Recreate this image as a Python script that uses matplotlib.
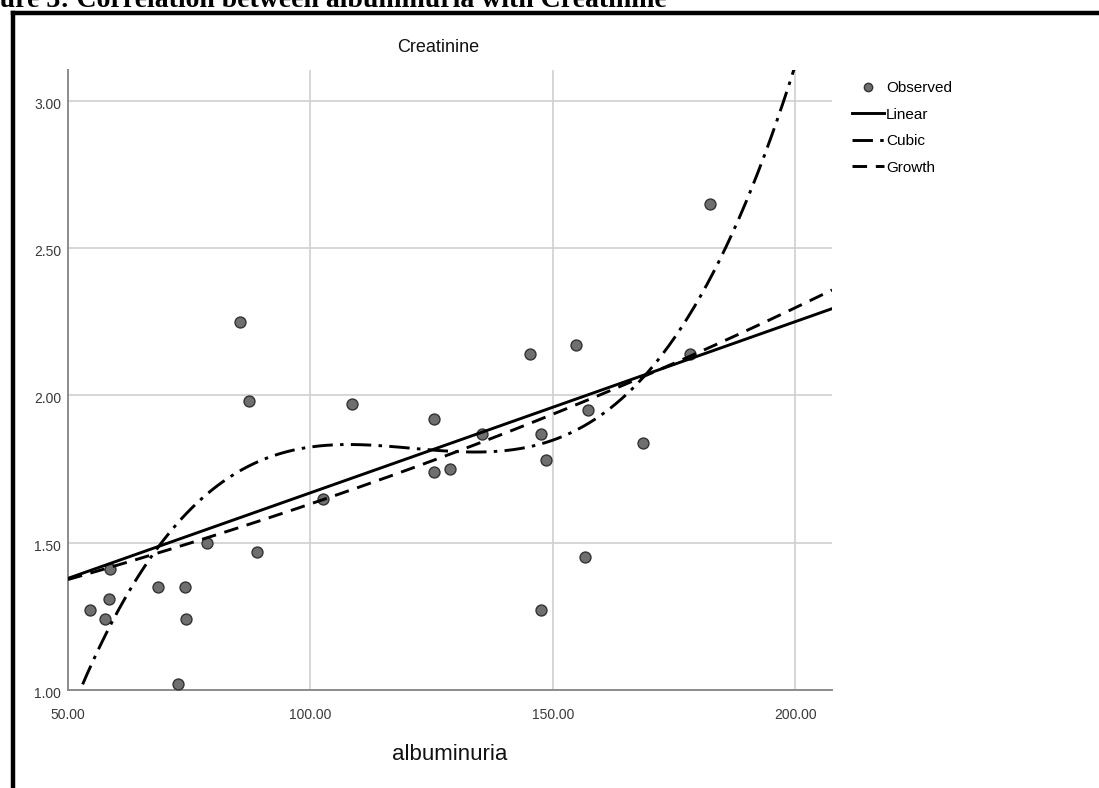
import numpy as np
import matplotlib
matplotlib.use("Agg")
import matplotlib.pyplot as plt
import matplotlib.transforms as mtransforms
from matplotlib.lines import Line2D

# Observed data (albuminuria, creatinine)
albuminuria = [54.5, 57.6, 58.5, 58.7, 68.6, 74.2, 74.3, 72.6, 78.7, 89.0,
               85.5, 87.3, 108.6, 102.5,
               145.2, 154.8, 125.6, 135.5, 147.5, 157.3, 125.6, 128.7, 148.6,
               168.7, 156.6, 147.5, 182.4, 178.4]
creatinine = [1.27, 1.24, 1.31, 1.41, 1.35, 1.35, 1.24, 1.02, 1.50, 1.47,
              2.25, 1.98, 1.97, 1.65,
              2.14, 2.17, 1.92, 1.87, 1.87, 1.95, 1.74, 1.75, 1.78,
              1.84, 1.45, 1.27, 2.65, 2.14]

# Fitted models
linear_coef = [0.00581, 1.0885]          # slope, intercept
growth_coef = [1.1587, 0.003423]         # a, b in a*exp(b*x)
cubic_read_x = [52.3, 55.0, 57.0, 60.4, 62.9, 66.6, 70.4, 77.1, 86.0, 96.3,
                102.5, 108.0, 112.9, 138.4, 148.7, 154.9, 158.7, 163.8,
                171.8, 184.5, 189.7, 198.3, 199.7]
cubic_read_y = [1.00, 1.088, 1.158, 1.269, 1.334, 1.436, 1.526, 1.668, 1.747, 1.809,
                1.828, 1.832, 1.828, 1.809, 1.837, 1.88, 1.917, 1.99,
                2.131, 2.46, 2.652, 3.029, 3.105]

x_ticks = [50, 100, 150, 200]
y_ticks = [1.0, 1.5, 2.0, 2.5, 3.0]
x_range = (50, 207.6)
y_range = (1.0, 3.105)

legend_labels = ["Observed", "Linear", "Cubic", "Growth"]

W, H = 1099, 788
fig = plt.figure(figsize=(W / 100, H / 100), dpi=100)
fig.patch.set_facecolor("white")

ax = fig.add_axes([68 / W, 1 - 690 / H, (832 - 68) / W, (690 - 70) / H])

xa = np.array(albuminuria)
ya = np.array(creatinine)
xs = np.linspace(x_range[0], x_range[1], 600)

cub = np.polyfit(cubic_read_x, cubic_read_y, 3)

narrow = ["Liberation Sans Narrow", "Liberation Sans", "DejaVu Sans"]
sans = ["Liberation Sans", "DejaVu Sans"]

ax.set_xlim(*x_range)
ax.set_ylim(*y_range)
ax.set_xticks(x_ticks)
ax.set_yticks(y_ticks)
ax.set_xticklabels([f"{v:.2f}" for v in x_ticks], family=narrow, fontsize=10, color="#3a3a3a")
ax.set_yticklabels([f"{v:.2f}" for v in y_ticks], family=narrow, fontsize=10, color="#3a3a3a")
ax.tick_params(axis="x", length=0, pad=13)
ax.tick_params(axis="y", length=0, pad=5)
shift = mtransforms.ScaledTranslation(0, -4 / 100, fig.dpi_scale_trans)
for lab in ax.get_yticklabels():
    lab.set_verticalalignment("center")
    lab.set_transform(lab.get_transform() + shift)
ax.grid(True, color="#cfcfcf", lw=1.2)
ax.set_axisbelow(True)
for s in ["top", "right"]:
    ax.spines[s].set_visible(False)
for s in ["left", "bottom"]:
    ax.spines[s].set_color("#8c8c8c")
    ax.spines[s].set_linewidth(1.4)

ax.scatter(xa, ya, s=62, facecolor="#6f6f6f", edgecolor="#333333", linewidths=1.0, zorder=3)
l1, = ax.plot(xs, linear_coef[0] * xs + linear_coef[1], color="black", lw=2.1, zorder=4)
l2, = ax.plot(xs, np.polyval(cub, xs), color="black", lw=2.1, dashes=(7, 2.5, 1.2, 2.5), zorder=4)
l3, = ax.plot(xs, growth_coef[0] * np.exp(growth_coef[1] * xs), color="black", lw=2.1,
              dashes=(5, 3), zorder=4)

fig.text(438 / W, 1 - 48 / H, "Creatinine", family=sans, fontsize=13, color="#111111",
         ha="center", va="center")
ax.set_xlabel("albuminuria", family=sans, fontsize=16, color="#111111", labelpad=16)

obs = Line2D([], [], ls="none", marker="o", markersize=6, markerfacecolor="#6f6f6f", markeredgecolor="#333333")
fig.legend([obs, l1, l2, l3], legend_labels, loc="upper left",
           bbox_to_anchor=(846 / W, 1 - 75 / H), frameon=False,
           prop={"family": narrow, "size": 11}, handlelength=2.1,
           handletextpad=0.12, labelspacing=0.82, borderaxespad=0)

# Frame border
fig.add_artist(Line2D([13 / W, 1.0], [1 - 13 / H, 1 - 13 / H], color="black", lw=3.2, transform=fig.transFigure))
fig.add_artist(Line2D([13 / W, 13 / W], [0, 1 - 13 / H], color="black", lw=3.2, transform=fig.transFigure))

fig.text(-39 / W, 1 - 7 / H, "Figure 3: Correlation between albuminuria with Creatinine",
         ha="left", va="baseline", family=["Liberation Serif", "DejaVu Serif"],
         fontweight="bold", fontsize=20, color="black")

fig.savefig("out.png", dpi=100, facecolor="white")
